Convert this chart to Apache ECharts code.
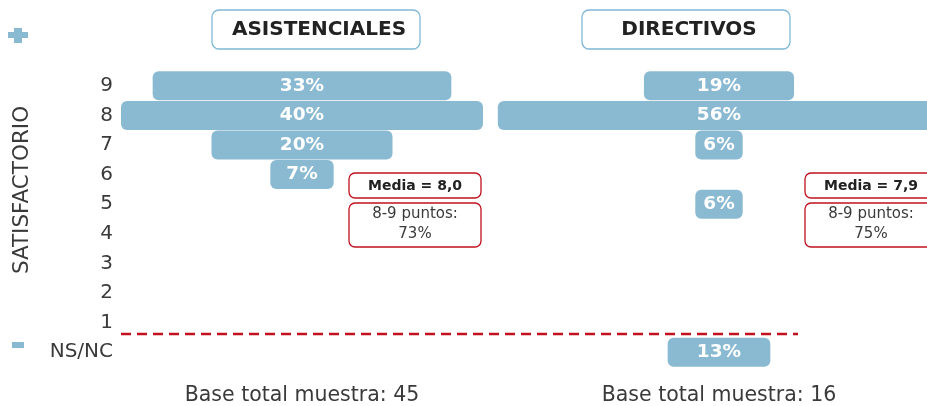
<!DOCTYPE html>
<html><head><meta charset="utf-8">
<script src="https://cdn.jsdelivr.net/npm/echarts@6/dist/echarts.min.js"></script>
<style>html,body{margin:0;padding:0;background:#fff}#c{width:927px;height:406px}</style>
</head><body><div id="c"></div>
<script>
const categories = ['9','8','7','6','5','4','3','2','1','NS/NC'];
const asistenciales = [33,40,20,7,null,null,null,null,null,null];
const directivos = [19,56,6,null,6,null,null,null,null,13];
const panelTitles = ['ASISTENCIALES','DIRECTIVOS'];
const medias = ['Media = 8,0','Media = 7,9'];
const puntos = ['8-9 puntos:\n73%','8-9 puntos:\n75%'];
const bases = ['Base total muestra: 45','Base total muestra: 16'];
const yTitle = 'SATISFACTORIO';

const FONT = '"DejaVu Sans", "Open Sans", sans-serif';
const BAR = '#8ab9d2';
const RED = '#c0121e';
const leftMax = 40, rightMax = 52;
const offs = (arr, m) => arr.map(v => v == null ? null : (m - v) / 2);

const chart = echarts.init(document.getElementById('c'));
const grids = [
  {left:121, width:362, top:71, height:296},
  {left:513.6, width:410.8, top:71, height:296}
];
const barLabel = {show:true, position:'inside', color:'#fff', fontFamily:FONT, fontWeight:'bold', fontSize:18.5, formatter: p => p.value + '%'};
function panelSeries(idx, data, m){
  return [
    {type:'bar', xAxisIndex:idx, yAxisIndex:idx, stack:'s'+idx, stackStrategy:'all', clip:false, data:offs(data,m), itemStyle:{color:'transparent'}, barWidth:29, silent:true},
    {type:'bar', xAxisIndex:idx, yAxisIndex:idx, stack:'s'+idx, stackStrategy:'all', clip:false, data:data, itemStyle:{color:BAR, borderRadius:6}, barWidth:29, label:barLabel}
  ];
}
function box(x,y,w,h,stroke,r){
  return {type:'rect', shape:{x:x,y:y,width:w,height:h,r:r}, style:{fill:'#fff', stroke:stroke, lineWidth:1.3}, z:10};
}
function txt(t,x,y,size,weight,color,extra){
  return Object.assign({type:'text', z:11, style:{text:t, x:x, y:y, font: weight+' '+size+'px '+FONT, fill:color, textAlign:'center', textVerticalAlign:'middle', lineHeight:20}}, extra||{});
}
const graphic = [
  box(212,10,208,39,'#7fb8d6',7), txt(panelTitles[0],319,30,20,'bold','#222'),
  box(582,10,208,39,'#7fb8d6',7), txt(panelTitles[1],689,30,20,'bold','#222'),
  box(349,173,132,25,RED,6), txt(medias[0],415,186,14,'bold','#222'),
  box(349,203,132,44,RED,6), txt(puntos[0],415,224,15,'normal','#3a3a3a'),
  box(805,173,132,25,RED,6), txt(medias[1],871,186,14,'bold','#222'),
  box(805,203,132,44,RED,6), txt(puntos[1],871,224,15,'normal','#3a3a3a'),
  {type:'line', shape:{x1:121,y1:334,x2:798,y2:334}, style:{stroke:RED, lineWidth:2.5, lineDash:[10,6]}, z:5},
  {type:'rect', shape:{x:8,y:32,width:20,height:6}, style:{fill:BAR}},
  {type:'rect', shape:{x:14,y:28,width:8,height:15}, style:{fill:BAR}},
  {type:'rect', shape:{x:12,y:342,width:12,height:6}, style:{fill:BAR}},
  txt(yTitle,0,0,21.5,'normal','#3a3a3a',{x:22,y:190,rotation:Math.PI/2}),
  txt(bases[0],302,396,20.5,'normal','#3a3a3a'),
  txt(bases[1],719,396,20.5,'normal','#3a3a3a')
];
chart.setOption({
  animation:false,
  grid:grids,
  xAxis:[
    {gridIndex:0, type:'value', min:0, max:leftMax, show:false},
    {gridIndex:1, type:'value', min:0, max:rightMax, show:false}
  ],
  yAxis:[
    {gridIndex:0, type:'category', data:categories, inverse:true, axisLine:{show:false}, axisTick:{show:false}, splitLine:{show:false},
     axisLabel:{margin:8, color:'#3a3a3a', fontFamily:FONT, fontSize:20}},
    {gridIndex:1, type:'category', data:categories, inverse:true, show:false}
  ],
  series:[].concat(panelSeries(0, asistenciales, leftMax), panelSeries(1, directivos, rightMax)),
  graphic:graphic
});
</script></body></html>
